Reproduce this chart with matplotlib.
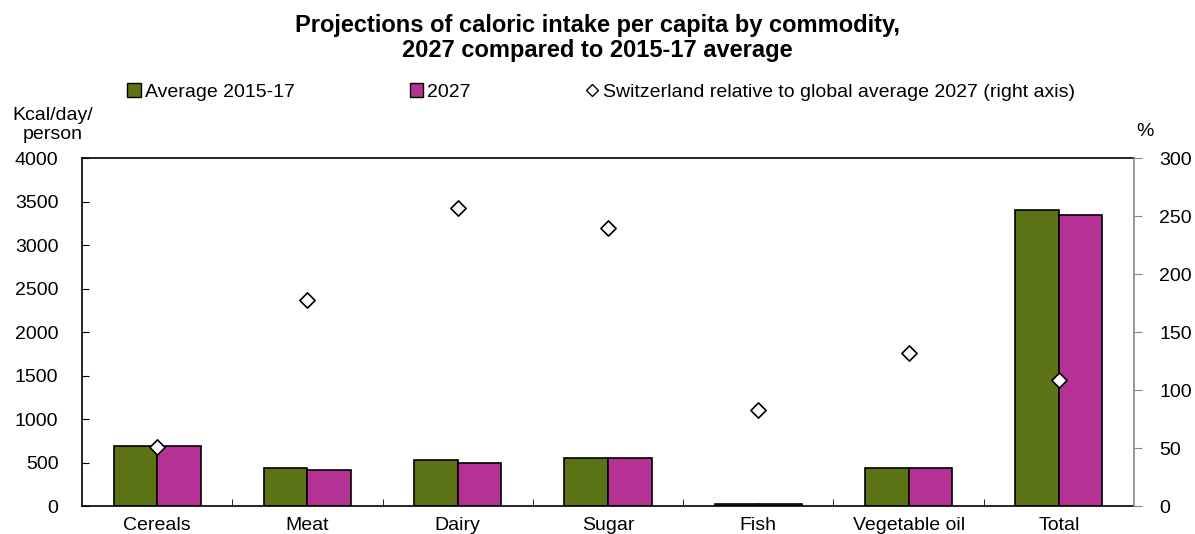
import matplotlib.pyplot as plt
import numpy as np
from matplotlib.lines import Line2D
from matplotlib.patches import Patch

plt.rcParams['font.family'] = ['Liberation Sans', 'DejaVu Sans']

categories = ['Cereals', 'Meat', 'Dairy', 'Sugar', 'Fish', 'Vegetable oil', 'Total']
avg_2015_17 = [690, 437, 529, 552, 20, 437, 3402]
proj_2027 = [690, 414, 494, 552, 20, 437, 3345]
swiss_rel = [51, 178, 257, 240, 83, 132, 109]

green = '#5b7314'
magenta = '#b43294'
fs = 14

fig = plt.figure(figsize=(11.95, 5.34), dpi=100)
ax = fig.add_axes([0.0686, 0.0524, 0.8804, 0.6516])
x = np.arange(len(categories))
w = 0.29

ax.bar(x - w / 2, avg_2015_17, w, color=green, edgecolor='black', linewidth=1.2)
ax.bar(x + w / 2, proj_2027, w, color=magenta, edgecolor='black', linewidth=1.2)

ax.set_xlim(-0.5, len(categories) - 0.5)
ax.set_ylim(0, 4000)
ax.set_yticks(np.arange(0, 4001, 500))
ax.tick_params(axis='y', direction='in', length=5, labelsize=fs, pad=17)
ax.set_xticks(x)
ax.set_xticklabels(categories, fontsize=fs)
ax.tick_params(axis='x', length=0, pad=8)
# inner tick marks between categories
ax.set_xticks(np.arange(0.5, len(categories) - 1, 1), minor=True)
ax.tick_params(axis='x', which='minor', direction='in', length=5)
for s in ['left', 'bottom', 'top']:
    ax.spines[s].set_linewidth(1.2)
ax.spines['right'].set_visible(False)

ax2 = ax.twinx()
ax2.set_ylim(0, 300)
ax2.set_yticks(np.arange(0, 301, 50))
ax2.scatter(x, swiss_rel, marker='D', s=60, facecolor='white', edgecolor='black',
            linewidth=1.2, zorder=5)
ax2.tick_params(axis='y', direction='out', length=6, color='#888888', labelsize=fs, pad=12)
ax2.spines['right'].set_color('#888888')
ax2.spines['right'].set_linewidth(1.2)
for s in ['left', 'bottom', 'top']:
    ax2.spines[s].set_visible(False)

fig.text(0.044, 1 - 125 / 534, 'Kcal/day/\nperson', ha='center', va='center', fontsize=fs, linespacing=1.2)
fig.text(0.958, 1 - 132 / 534, '%', ha='center', va='center', fontsize=fs)

fig.text(0.5, 1 - 38 / 534,
         'Projections of caloric intake per capita by commodity,\n2027 compared to 2015-17 average',
         ha='center', va='center', fontsize=17, fontweight='bold', linespacing=1.08)

handles = [
    Patch(facecolor=green, edgecolor='black', label='Average 2015-17'),
    Patch(facecolor=magenta, edgecolor='black', label='2027'),
    Line2D([], [], marker='D', linestyle='none', markerfacecolor='white',
           markeredgecolor='black', markersize=6, label='Switzerland relative to global average 2027 (right axis)'),
]
fig.legend(handles=handles, loc='center', bbox_to_anchor=(0.503, 1 - 92 / 534), ncol=3, frameon=False,
           fontsize=fs, handlelength=0.7, handleheight=0.7, handletextpad=0.2, columnspacing=5.9)

fig.savefig('out.png', dpi=100)
